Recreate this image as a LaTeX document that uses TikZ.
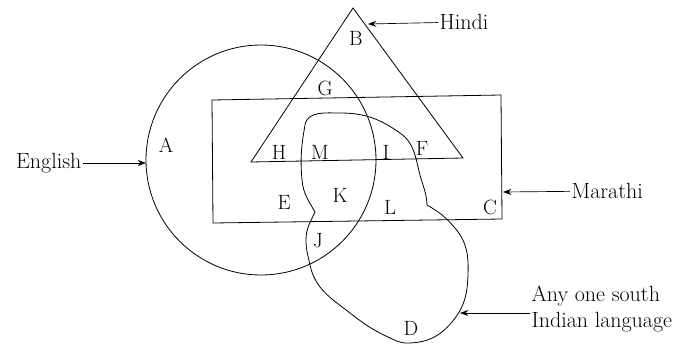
\documentclass[tikz,border=0pt]{standalone}
\usepackage{tikz}
\usetikzlibrary{arrows.meta, positioning}

\begin{document}
\begin{tikzpicture}[
  x=0.75pt, y=-0.75pt,
  outline/.style={draw=black, line width=0.6pt},
  region/.style={font=\fontsize{15.5}{18}\selectfont, inner sep=0pt},
  langname/.style={font=\fontsize{16.5}{20}\selectfont, inner sep=1pt, align=left},
  arrow/.style={-{Stealth[length=2.2mm, width=1.6mm]}, line width=0.5pt}
]
\useasboundingbox (0,0) rectangle (689,346);

% sets
\draw[outline] (353,8) -- (463,158) -- (251,162) -- cycle;
\draw[outline] (212,100) -- (501,95) -- (502,219) -- (213,223) -- cycle;
\draw[outline] (261,160) circle [radius=115];
\draw[outline] (340,113) to[out=0, in=145] (400,133)
  to[out=-35, in=105] (420,175)
  to[out=-75, in=92] (427,205)
  to[out=-30, in=130] (455,228)
  to[out=-50, in=88] (468,275)
  to[out=-92, in=50] (452,322)
  to[out=-130, in=0] (407,343)
  to[out=180, in=-25] (388,337)
  to[out=155, in=-38] (350,313)
  to[out=142, in=-78] (310,265)
  to[out=102, in=-90] (306,240)
  to[out=90, in=-115] (315,212)
  to[out=120, in=-85] (302,180)
  to[out=95, in=-100] (305,125)
  to[out=80, in=180] cycle;

% regions
\node[region] (A) at (166,145) {A};
\node[region] (B) at (356,38) {B};
\node[region] (G) at (325,88) {G};
\node[region] (H) at (279,152) {H};
\node[region] (M) at (320,152) {M};
\node[region] (I) at (386,152) {I};
\node[region] (F) at (422,148) {F};
\node[region] (E) at (284,202) {E};
\node[region] (K) at (340,195) {K};
\node[region] (L) at (390,207) {L};
\node[region] (C) at (490,207) {C};
\node[region] (J) at (318,241) {J};
\node[region] (D) at (411,328) {D};

% languages
\node[langname, anchor=west] (hindi) at (438,22) {Hindi};
\node[langname, anchor=east] (english) at (83,163) {English};
\node[langname, anchor=west] (marathi) at (570,191) {Marathi};
\node[langname, anchor=west] (south) at (530,309) {Any one south\\Indian language};

\coordinate (hinditip) at (368,24);
\coordinate (englishtip) at (146,163);
\coordinate (marathitip) at (503,192);
\coordinate (southtip) at (460,313);

\draw[arrow] (hindi) -- (hinditip);
\draw[arrow] (english) -- (englishtip);
\draw[arrow] (marathi) -- (marathitip);
\draw[arrow] (south.west |- southtip) -- (southtip);
\end{tikzpicture}
\end{document}
